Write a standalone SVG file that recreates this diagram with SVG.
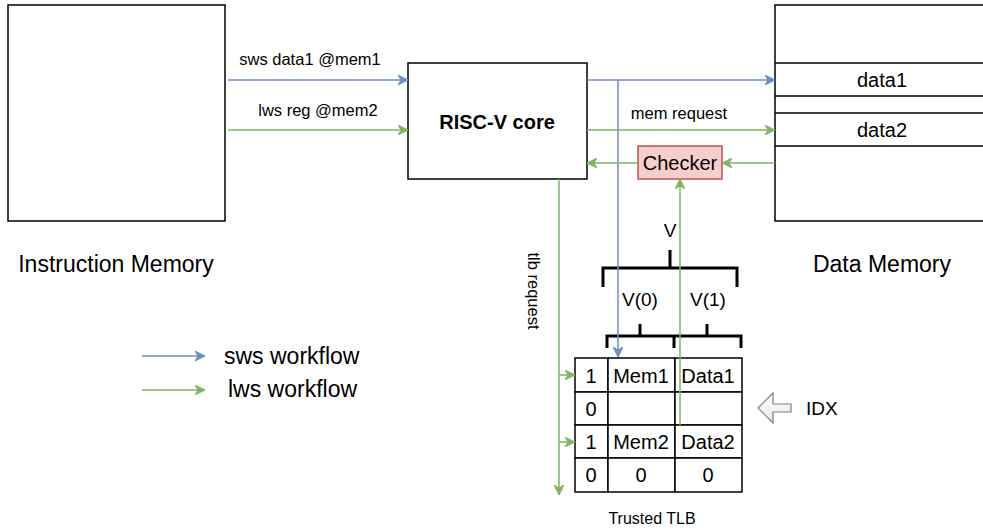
<svg xmlns="http://www.w3.org/2000/svg" width="983" height="530" viewBox="0 0 983 530">
<defs>
<style>
text{font-family:"Liberation Sans",Arial,sans-serif;fill:#000;}
.box{fill:#fff;stroke:#000;stroke-width:1.5;}
.blue{stroke:#6c8ebf;stroke-width:1.5;fill:none;}
.green{stroke:#82b366;stroke-width:1.5;fill:none;}
.br{stroke:#000;stroke-width:3;fill:none;}
.cell{fill:#fff;stroke:#000;stroke-width:1.5;}
.c{text-anchor:middle;dominant-baseline:central;}
.big{font-size:23px;}
.lbl{font-size:16.5px;}
.t{font-size:20px;}
</style>
<marker id="ab" viewBox="0 0 10 10" refX="10" refY="5" markerWidth="10" markerHeight="10" markerUnits="userSpaceOnUse" orient="auto"><path d="M0,0 L10,5 L0,10 L3,5 Z" fill="#6c8ebf" stroke="#6c8ebf"/></marker>
<marker id="ag" viewBox="0 0 10 10" refX="10" refY="5" markerWidth="10" markerHeight="10" markerUnits="userSpaceOnUse" orient="auto"><path d="M0,0 L10,5 L0,10 L3,5 Z" fill="#82b366" stroke="#82b366"/></marker>
<linearGradient id="gidx" x1="0" y1="0" x2="0" y2="1"><stop offset="0" stop-color="#ffffff"/><stop offset="1" stop-color="#e6e6e6"/></linearGradient>
</defs>

<g id="instruction-memory">
<rect class="box" x="8" y="5" width="217" height="216"/>
<text x="116" y="264" class="c big">Instruction Memory</text>
</g>

<g id="risc-v-core">
<rect class="box" x="408" y="63" width="179" height="116"/>
<text x="497" y="122" class="c t" font-weight="bold">RISC-V core</text>
</g>

<g id="data-memory">
<rect class="box" x="775" y="5" width="215" height="216"/>
<line x1="775" y1="63" x2="990" y2="63" stroke="#000" stroke-width="1.5"/>
<line x1="775" y1="96" x2="990" y2="96" stroke="#000" stroke-width="1.5"/>
<line x1="775" y1="113" x2="990" y2="113" stroke="#000" stroke-width="1.5"/>
<line x1="775" y1="146" x2="990" y2="146" stroke="#000" stroke-width="1.5"/>
<text x="882" y="80" class="c t">data1</text>
<text x="882" y="130" class="c t">data2</text>
<text x="882" y="264" class="c big">Data Memory</text>
</g>

<g id="checker">
<rect x="638" y="146" width="84" height="33" fill="#f8cecc" stroke="#b85450" stroke-width="1.5"/>
<text x="680" y="163" class="c t">Checker</text>
</g>

<g id="trusted-tlb">
<rect class="cell" x="575" y="358" width="33" height="34"/>
<rect class="cell" x="608" y="358" width="67" height="34"/>
<rect class="cell" x="675" y="358" width="67" height="34"/>
<rect class="cell" x="575" y="392" width="33" height="33"/>
<rect class="cell" x="608" y="392" width="67" height="33"/>
<rect class="cell" x="675" y="392" width="67" height="33"/>
<rect class="cell" x="575" y="425" width="33" height="33"/>
<rect class="cell" x="608" y="425" width="67" height="33"/>
<rect class="cell" x="675" y="425" width="67" height="33"/>
<rect class="cell" x="575" y="458" width="33" height="34"/>
<rect class="cell" x="608" y="458" width="67" height="34"/>
<rect class="cell" x="675" y="458" width="67" height="34"/>
<text x="591" y="376" class="c t">1</text>
<text x="641" y="376" class="c t">Mem1</text>
<text x="708" y="376" class="c t">Data1</text>
<text x="591" y="409" class="c t">0</text>
<text x="591" y="442" class="c t">1</text>
<text x="641" y="442" class="c t">Mem2</text>
<text x="708" y="442" class="c t">Data2</text>
<text x="591" y="475" class="c t">0</text>
<text x="641" y="475" class="c t">0</text>
<text x="708" y="475" class="c t">0</text>
<text x="652" y="518" class="c" font-size="16">Trusted TLB</text>
</g>

<g id="braces">
<text x="670" y="230" class="c" font-size="19">V</text>
<path class="br" d="M670,250 V268 M603,287 V268 H737 V287"/>
<text x="640" y="299" class="c" font-size="19">V(0)</text>
<text x="708" y="299" class="c" font-size="19">V(1)</text>
<path class="br" d="M640,324 V336 M707,324 V336 M607,348 V336 H741 V348 M674,336 V348"/>
</g>

<g id="idx">
<path d="M758,408 L773,393 L773,404 L791,404 L791,412 L773,412 L773,423 Z" fill="url(#gidx)" stroke="#808080" stroke-width="1.2"/>
<text x="806" y="408" font-size="19" dominant-baseline="central">IDX</text>
</g>

<g id="legend">
<line class="blue" x1="142" y1="356" x2="205" y2="356" marker-end="url(#ab)"/>
<line class="green" x1="142" y1="390" x2="205" y2="390" marker-end="url(#ag)"/>
<text x="224" y="356" class="big" dominant-baseline="central">sws workflow</text>
<text x="228" y="389" class="big" dominant-baseline="central">lws workflow</text>
</g>

<g id="connectors">
<line class="blue" x1="228" y1="80" x2="408" y2="80" marker-end="url(#ab)"/>
<line class="green" x1="228" y1="130" x2="408" y2="130" marker-end="url(#ag)"/>
<text x="310" y="59" class="c lbl">sws data1 @mem1</text>
<text x="318" y="110" class="c lbl">lws reg @mem2</text>
<line class="blue" x1="587" y1="80" x2="775" y2="80" marker-end="url(#ab)"/>
<line class="blue" x1="618" y1="80" x2="618" y2="357" marker-end="url(#ab)"/>
<line class="green" x1="587" y1="130" x2="775" y2="130" marker-end="url(#ag)"/>
<text x="679" y="113" class="c lbl">mem request</text>
<line class="green" x1="775" y1="163" x2="722" y2="163" marker-end="url(#ag)"/>
<line class="green" x1="638" y1="163" x2="587" y2="163" marker-end="url(#ag)"/>
<line class="green" x1="680" y1="425" x2="680" y2="179" marker-end="url(#ag)"/>
<line class="green" x1="559" y1="179" x2="559" y2="495" marker-end="url(#ag)"/>
<line class="green" x1="559" y1="375" x2="575" y2="375" marker-end="url(#ag)"/>
<line class="green" x1="559" y1="442" x2="575" y2="442" marker-end="url(#ag)"/>
<text x="534" y="291" class="c lbl" transform="rotate(90 534 291)">tlb request</text>
</g>
</svg>
